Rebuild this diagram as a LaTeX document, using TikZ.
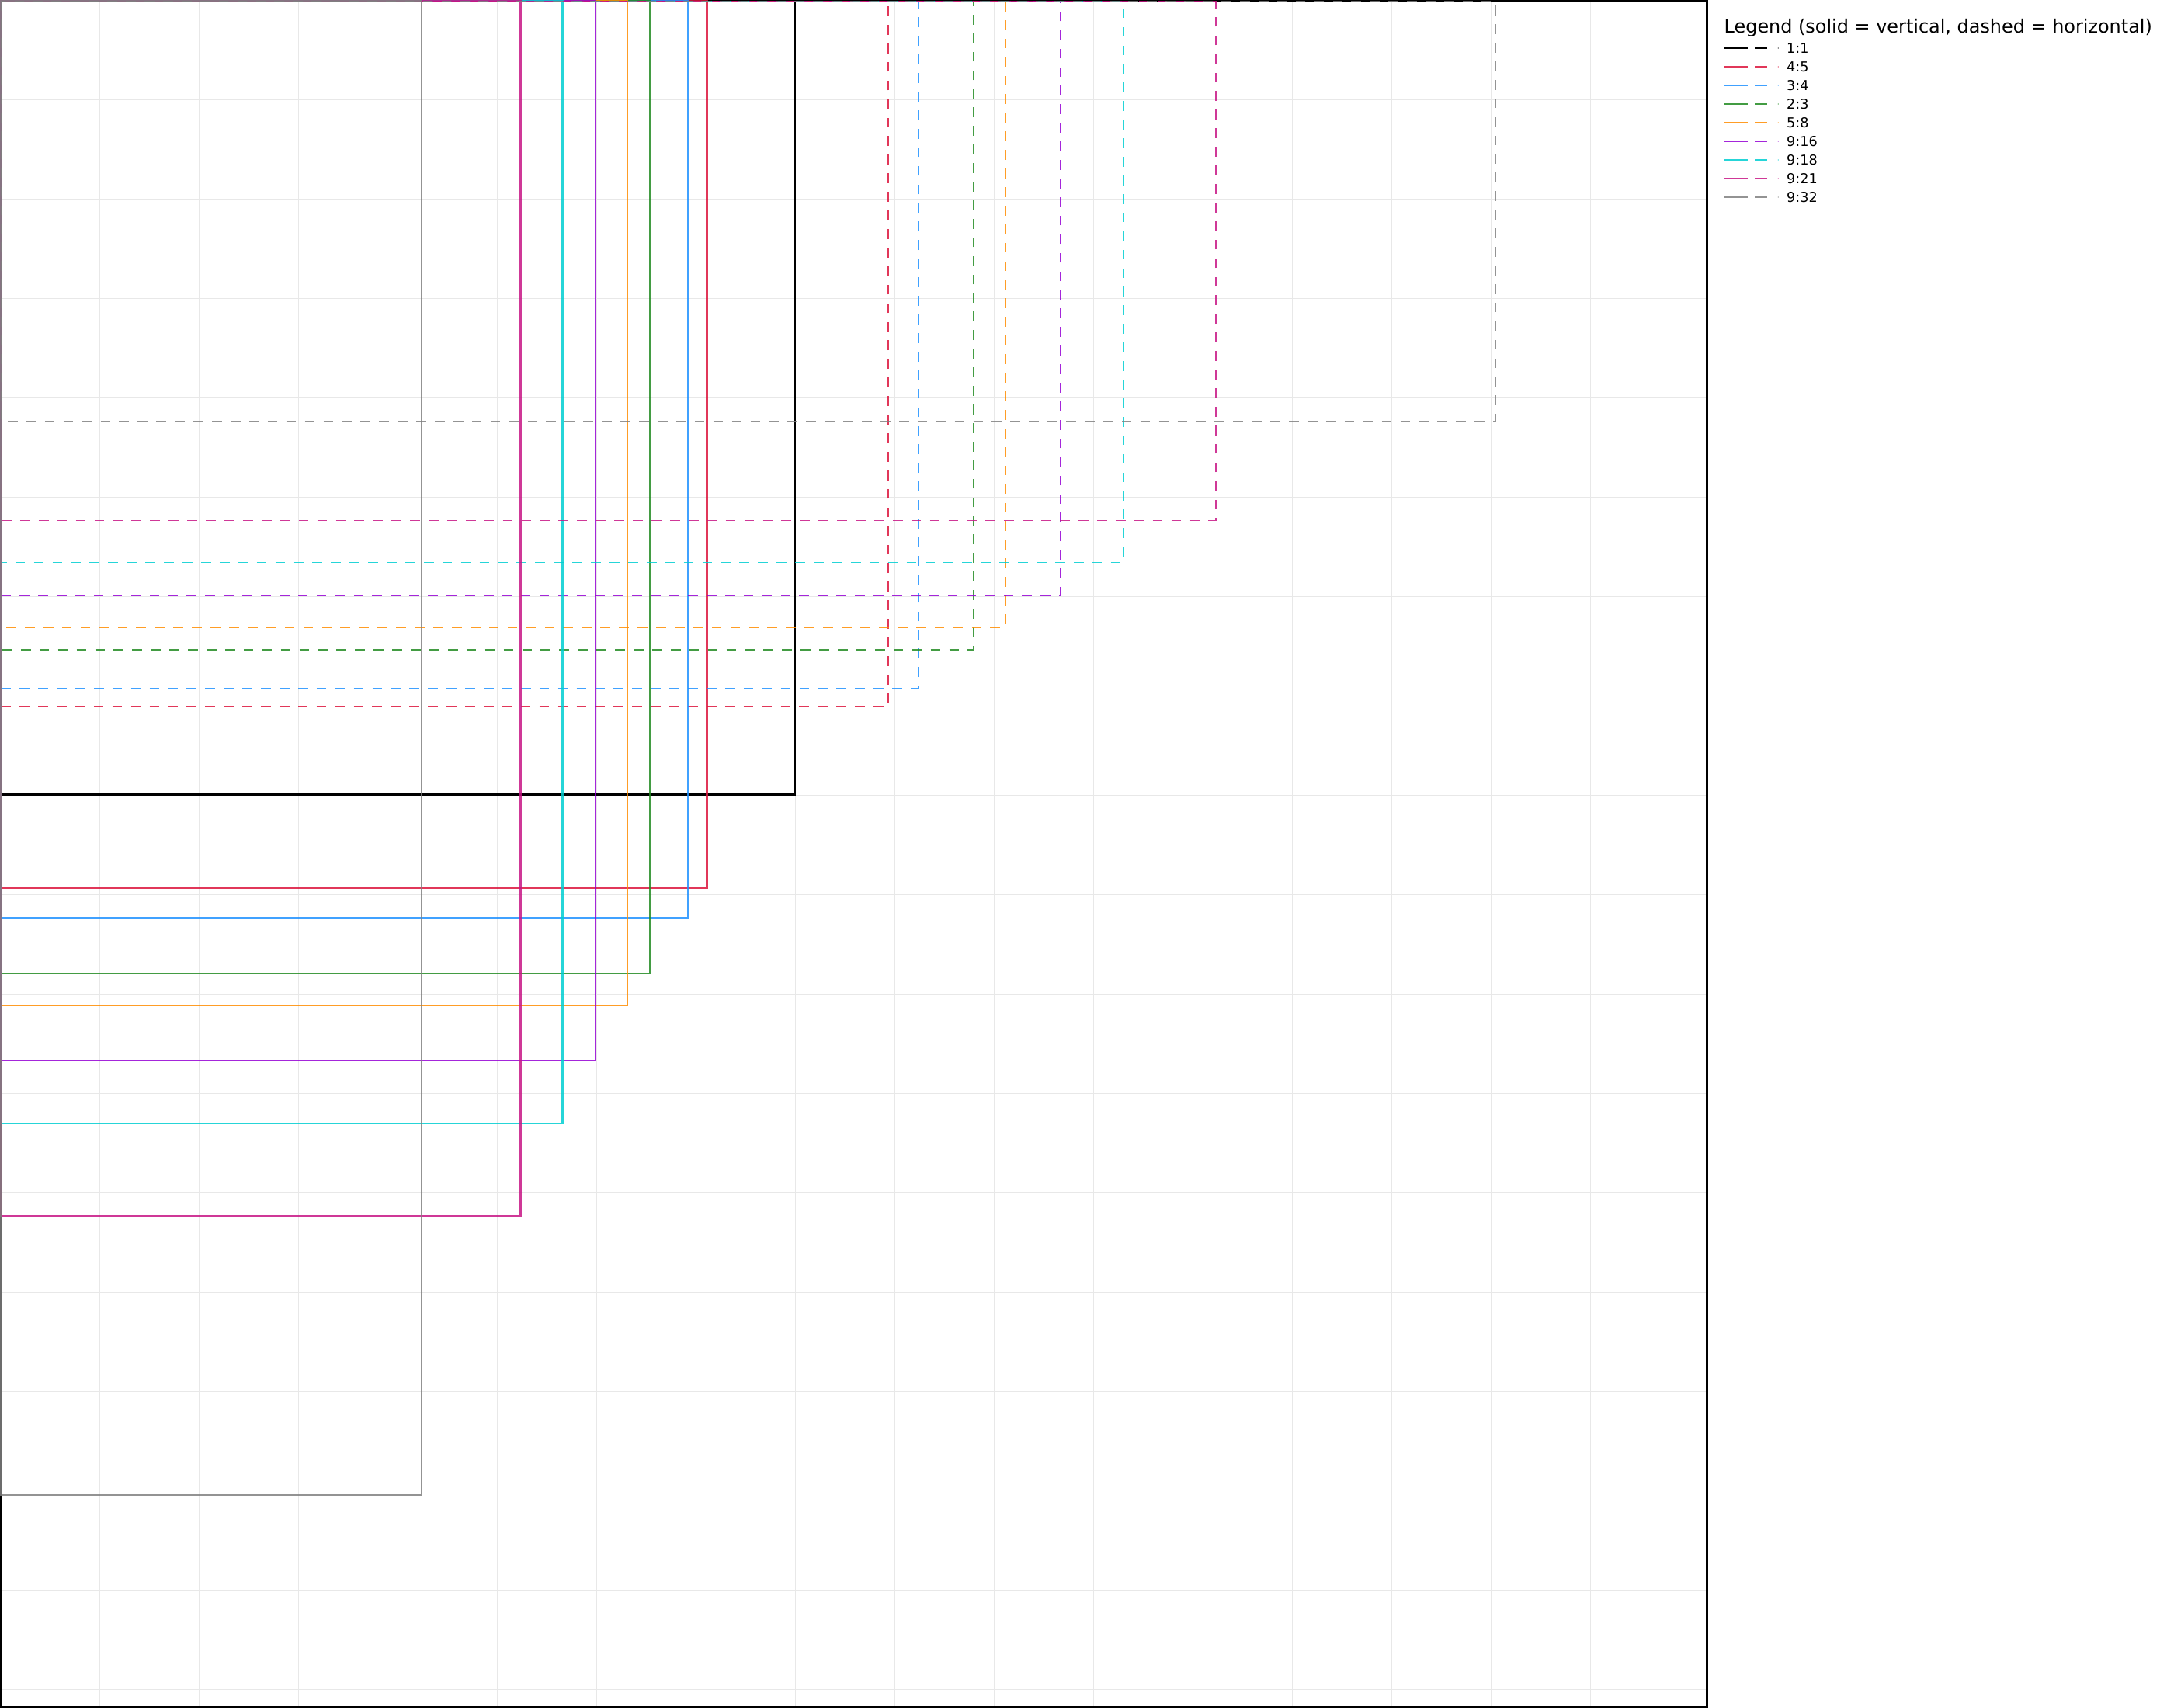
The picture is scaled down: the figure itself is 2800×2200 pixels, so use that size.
\documentclass[tikz,border=0pt]{standalone}
\usepackage{fontspec}
\setmainfont{DejaVu Sans}
\definecolor{gridgray}{RGB}{232,232,232}
\definecolor{crimson}{RGB}{220,20,60}
\definecolor{dodger}{RGB}{30,144,255}
\definecolor{forest}{RGB}{34,139,34}
\definecolor{dorange}{RGB}{255,140,0}
\definecolor{dviolet}{RGB}{148,0,211}
\definecolor{dturq}{RGB}{0,206,209}
\definecolor{mvred}{RGB}{199,21,133}
\definecolor{midgray}{RGB}{128,128,128}
\tikzset{
  gridline/.style={draw=gridgray, line width=0.28pt},
  vrect/.style={line width=0.65pt, draw opacity=0.85},
  hrect/.style={line width=0.55pt, draw opacity=0.85, dash pattern=on 3.6pt off 3.2pt},
  legsolid/.style={line width=0.85pt, draw opacity=0.85},
  legdash/.style={line width=0.55pt, draw opacity=0.85},
  leglabel/.style={anchor=west, inner sep=0pt, font=\fontsize{5}{6}\selectfont}
}
\begin{document}
\begin{tikzpicture}[x=0.01cm, y=-0.01cm, line join=miter]
  \useasboundingbox (0,0) rectangle (2800,2200);
  % grid, every 128 px
  \foreach \g in {128,256,...,2176} {
    \draw[gridline] (\g,0) -- (\g,2198);
    \draw[gridline] (0,\g) -- (2198,\g);
  }
  \draw[black, line width=0.85pt] (1.5,1.5) rectangle (2198.5,2198.5);
  % solid = vertical, dashed = horizontal
  \draw[black, line width=0.85pt] (1.5,1.5) rectangle (1023.5,1023);
  \draw[black, hrect, draw opacity=1] (1.5,1.5) rectangle (1024.5,1023);
  \draw[vrect, crimson] (1.5,1.5) rectangle (910.5,1144);
  \draw[hrect, crimson] (1.5,1.5) rectangle (1144,910.5);
  \draw[vrect, dodger] (1.5,1.5) rectangle (886.5,1182.5);
  \draw[hrect, dodger] (1.5,1.5) rectangle (1182.5,886.5);
  \draw[vrect, forest] (1.5,1.5) rectangle (837,1254);
  \draw[hrect, forest] (1.5,1.5) rectangle (1254,837);
  \draw[vrect, dorange] (1.5,1.5) rectangle (808,1295);
  \draw[hrect, dorange] (1.5,1.5) rectangle (1295,808);
  \draw[vrect, dviolet] (1.5,1.5) rectangle (767,1366);
  \draw[hrect, dviolet] (1.5,1.5) rectangle (1366,767);
  \draw[vrect, dturq] (1.5,1.5) rectangle (724.5,1447);
  \draw[hrect, dturq] (1.5,1.5) rectangle (1447,724.5);
  \draw[vrect, mvred] (1.5,1.5) rectangle (670.5,1566);
  \draw[hrect, mvred] (1.5,1.5) rectangle (1566,670.5);
  \draw[vrect, midgray] (1.5,1.5) rectangle (543,1926);
  \draw[hrect, midgray] (1.5,1.5) rectangle (1926,543);
  % legend
  \node[anchor=base west, inner sep=0pt, font=\fontsize{6.8}{8}\selectfont] (legtitle) at (2220,42.5) {Legend (solid = vertical, dashed = horizontal)};
  \draw[legsolid, black, draw opacity=1] (2220,62) -- (2251,62);
  \draw[legdash, black, draw opacity=1] (2260,62) -- (2276,62);
  \fill[black] (2290.3,62) circle (0.6);
  \node[leglabel] (lab1x1) at (2300.5,62) {1:1};
  \draw[legsolid, crimson] (2220,86) -- (2251,86);
  \draw[legdash, crimson] (2260,86) -- (2276,86);
  \fill[crimson] (2290.3,86) circle (0.6);
  \node[leglabel] (lab4x5) at (2300.5,86) {4:5};
  \draw[legsolid, dodger] (2220,110) -- (2251,110);
  \draw[legdash, dodger] (2260,110) -- (2276,110);
  \fill[dodger] (2290.3,110) circle (0.6);
  \node[leglabel] (lab3x4) at (2300.5,110) {3:4};
  \draw[legsolid, forest] (2220,134) -- (2251,134);
  \draw[legdash, forest] (2260,134) -- (2276,134);
  \fill[forest] (2290.3,134) circle (0.6);
  \node[leglabel] (lab2x3) at (2300.5,134) {2:3};
  \draw[legsolid, dorange] (2220,158) -- (2251,158);
  \draw[legdash, dorange] (2260,158) -- (2276,158);
  \fill[dorange] (2290.3,158) circle (0.6);
  \node[leglabel] (lab5x8) at (2300.5,158) {5:8};
  \draw[legsolid, dviolet] (2220,182) -- (2251,182);
  \draw[legdash, dviolet] (2260,182) -- (2276,182);
  \fill[dviolet] (2290.3,182) circle (0.6);
  \node[leglabel] (lab9x16) at (2300.5,182) {9:16};
  \draw[legsolid, dturq] (2220,206) -- (2251,206);
  \draw[legdash, dturq] (2260,206) -- (2276,206);
  \fill[dturq] (2290.3,206) circle (0.6);
  \node[leglabel] (lab9x18) at (2300.5,206) {9:18};
  \draw[legsolid, mvred] (2220,230) -- (2251,230);
  \draw[legdash, mvred] (2260,230) -- (2276,230);
  \fill[mvred] (2290.3,230) circle (0.6);
  \node[leglabel] (lab9x21) at (2300.5,230) {9:21};
  \draw[legsolid, midgray] (2220,254) -- (2251,254);
  \draw[legdash, midgray] (2260,254) -- (2276,254);
  \fill[midgray] (2290.3,254) circle (0.6);
  \node[leglabel] (lab9x32) at (2300.5,254) {9:32};
\end{tikzpicture}
\end{document}
